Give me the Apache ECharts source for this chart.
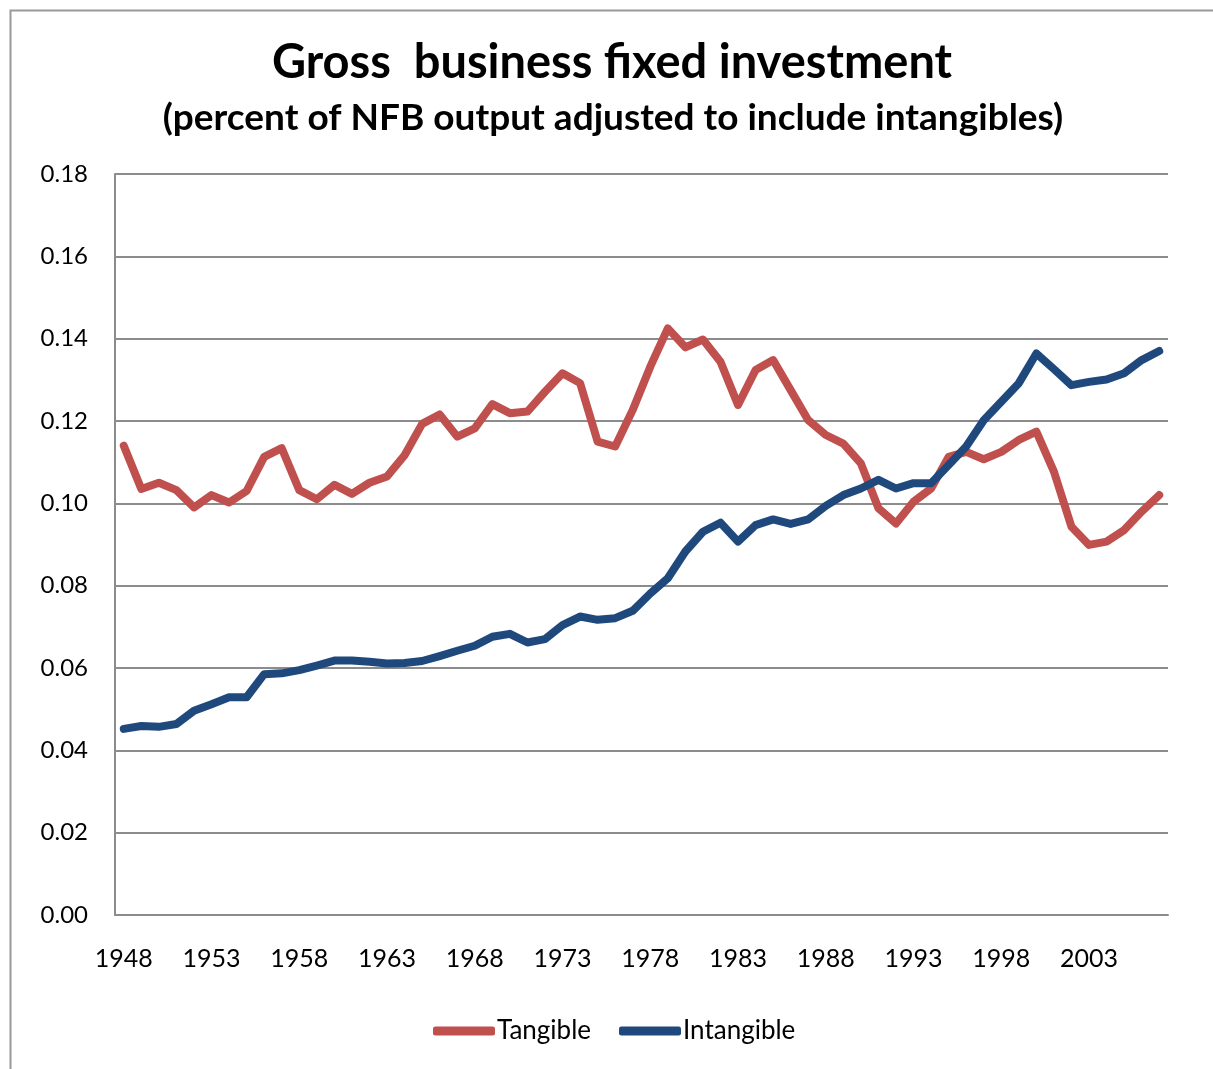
<!DOCTYPE html>
<html>
<head>
<meta charset="utf-8">
<title>Gross business fixed investment</title>
<script src="https://cdn.jsdelivr.net/npm/echarts@6/dist/echarts.min.js"></script>
<style>
  html, body { margin: 0; padding: 0; background: #fff; }
  #chart { width: 1213px; height: 1069px; }
</style>
</head>
<body>
<div id="chart"></div>
<script>
// years 1948 - 2007
const years = []
for (let y = 1948; y <= 2007; y++) years.push(String(y))

const tangible = [
  0.114, 0.1035, 0.105, 0.1032, 0.099, 0.102, 0.1002, 0.103, 0.1113, 0.1134,
  0.1032, 0.101, 0.1045, 0.1023, 0.105, 0.1065, 0.1117, 0.1193, 0.1216, 0.1162,
  0.1182, 0.1241, 0.1219, 0.1223, 0.1271, 0.1316, 0.1292, 0.115, 0.1138, 0.1227,
  0.1332, 0.1425, 0.1379, 0.1398, 0.1344, 0.1239, 0.1324, 0.1348, 0.1275, 0.1202,
  0.1166, 0.1145, 0.1097, 0.0988, 0.0951, 0.1004, 0.1036, 0.1113, 0.1125, 0.1107,
  0.1125, 0.1154, 0.1174, 0.1077, 0.0943, 0.0899, 0.0907, 0.0935, 0.098, 0.102
]

const intangible = [
  0.0452, 0.0459, 0.0457, 0.0464, 0.0496, 0.0512, 0.0529, 0.0529, 0.0585, 0.0587,
  0.0595, 0.0606, 0.0618, 0.0618, 0.0615, 0.0611, 0.0612, 0.0617, 0.0629, 0.0642,
  0.0654, 0.0676, 0.0683, 0.0662, 0.067, 0.0704, 0.0725, 0.0717, 0.0721, 0.0739,
  0.0781, 0.0818, 0.0883, 0.0931, 0.0953, 0.0907, 0.0947, 0.0961, 0.095, 0.0961,
  0.0994, 0.102, 0.1036, 0.1057, 0.1036, 0.1049, 0.1049, 0.1093, 0.1138, 0.1202,
  0.1247, 0.1292, 0.1364, 0.1326, 0.1287, 0.1295, 0.1301, 0.1316, 0.1348, 0.137
]

const font = 'Lato, "Open Sans", sans-serif'
const gray = '#8c8c8c'

const chart = echarts.init(document.getElementById('chart'))

chart.setOption({
  backgroundColor: '#fff',
  animation: false,
  // outer chart frame, runs off the right and bottom edge like the original
  graphic: [{
    type: 'rect',
    left: 8, top: 8,
    shape: { width: 1240, height: 1100 },
    style: { fill: 'none', stroke: '#999', lineWidth: 2 },
    silent: true
  }],
  title: [
    {
      text: 'Gross  business fixed investment',
      left: 607, top: 34, textAlign: 'center',
      textStyle: { fontFamily: font, fontWeight: 'bold', fontSize: 47, color: '#000' }
    },
    {
      text: '(percent of NFB output adjusted to include intangibles)',
      left: 608, top: 95, textAlign: 'center',
      textStyle: { fontFamily: font, fontWeight: 'bold', fontSize: 37, color: '#000' }
    }
  ],
  legend: {
    bottom: 20,
    left: 428,
    itemWidth: 62,
    itemHeight: 9,
    itemGap: 28,
    icon: 'roundRect',
    textStyle: { fontFamily: font, fontSize: 26, color: '#000', padding: [0, 0, 0, -3] },
    data: ['Tangible', 'Intangible']
  },
  grid: { left: 115, right: 45, top: 174, bottom: 154 },
  xAxis: {
    type: 'category',
    data: years,
    boundaryGap: true,
    axisLine: { lineStyle: { color: gray, width: 2 } },
    axisTick: { inside: true, length: 8, interval: 4, lineStyle: { color: gray, width: 2 } },
    axisLabel: { interval: 4, margin: 31, fontFamily: font, fontSize: 25, color: '#000' },
    splitLine: { show: false }
  },
  yAxis: {
    type: 'value',
    min: 0, max: 0.18, interval: 0.02,
    axisLine: { show: true, lineStyle: { color: gray, width: 2 } },
    axisTick: { show: false },
    axisLabel: {
      margin: 27, fontFamily: font, fontSize: 24, color: '#000',
      formatter: v => v.toFixed(2)
    },
    splitLine: { lineStyle: { color: gray, width: 2 } }
  },
  series: [
    {
      name: 'Tangible',
      type: 'line',
      data: tangible,
      symbol: 'none',
      color: '#c0504d',
      lineStyle: { width: 8, cap: 'round', join: 'round' }
    },
    {
      name: 'Intangible',
      type: 'line',
      data: intangible,
      symbol: 'none',
      color: '#1f497d',
      lineStyle: { width: 8, cap: 'round', join: 'round' }
    }
  ]
})
</script>
</body>
</html>
